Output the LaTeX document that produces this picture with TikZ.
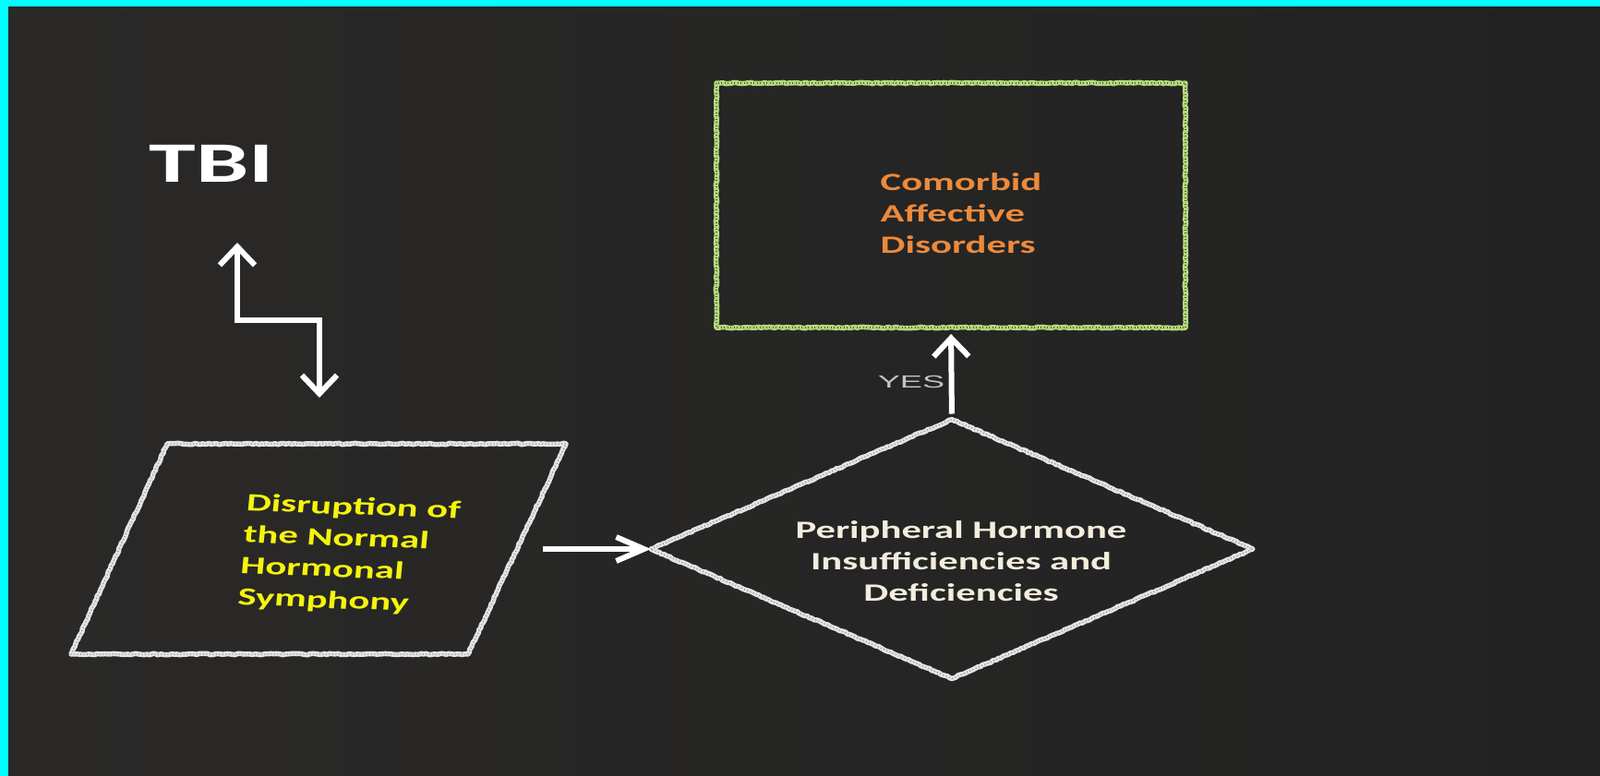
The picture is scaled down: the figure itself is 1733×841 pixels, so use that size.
\documentclass[tikz,border=0pt]{standalone}
\usepackage{fontspec}
\usepackage{graphicx}
\setmainfont{Carlito}
\newfontfamily\yesfont{Liberation Sans}
\usetikzlibrary{arrows.meta,decorations.pathmorphing,shapes.geometric,calc}
\definecolor{boardL}{HTML}{2A2928}
\definecolor{boardR}{HTML}{222222}
\definecolor{frame}{HTML}{00FFFF}
\definecolor{chalkwhite}{HTML}{E4E4E4}
\definecolor{chalkgreen}{HTML}{B4D87C}
\definecolor{txtyellow}{HTML}{F4F40C}
\definecolor{txtorange}{HTML}{EC8A3C}
\definecolor{txtcream}{HTML}{F2EDDC}
\definecolor{yesgray}{HTML}{C4C4C4}
\newcommand{\widetext}[2][1.58]{\scalebox{#1}[1]{#2}}
\begin{document}
\begin{tikzpicture}[x=1pt,y=-1pt,
  chalkline/.style={line width=5.5pt, line join=round, decorate,
    decoration={random steps, segment length=3pt, amplitude=0.7pt}},
  chalkspeck/.style={line width=1.3pt, draw=black!45, dash pattern=on 1pt off 2.5pt},
  arrowline/.style={draw=white, line width=6pt},
  vtip/.tip={Straight Barb[length=20pt,width=38pt]},
  htip/.tip={Straight Barb[length=30pt,width=26pt]},
  shapebox/.style={inner sep=0pt, outer sep=0pt},
  boxtext/.style={inner sep=0pt, font=\fontsize{27}{34}\selectfont\bfseries}
]
\useasboundingbox (0,0) rectangle (1733,841);
% board
\shade[left color=boardL, right color=boardR] (0,0) rectangle (1733,841);
\fill[frame] (0,0) rectangle (1733,7);
\fill[frame] (0,0) rectangle (9,841);

% TBI
\node[inner sep=0pt, text=white, font=\fontsize{62}{62}\selectfont\bfseries] (tbi) at (229,177) {\widetext[1.65]{TBI}};

% zigzag double arrow
\coordinate (zA) at (257,263);
\coordinate (zB) at (346,431);
\draw[arrowline, vtip-vtip] (zA) -- ++(0,84) -| (zB);

% parallelogram
\coordinate (pTL) at (181,481);
\coordinate (pTR) at (613,481);
\coordinate (pBR) at (507,709);
\coordinate (pBL) at (77,709);
\draw[chalkline, draw=chalkwhite] (pTL) -- (pTR) -- (pBR) -- (pBL) -- cycle;
\draw[chalkspeck] (pTL) -- (pTR) -- (pBR) -- (pBL) -- cycle;
\node[boxtext, text=txtyellow] (dis) at (378,602)
  {\widetext{\rotatebox{-3.4}{\begin{tabular}{@{}l@{}}Disruption of\\the Normal\\Hormonal\\Symphony\end{tabular}}}};

% diamond
\node[shapebox, diamond, minimum width=652pt, minimum height=281pt] (dia) at (1031,595) {};
\draw[chalkline, draw=chalkwhite] (dia.west) -- (dia.north) -- (dia.east) -- (dia.south) -- cycle;
\draw[chalkspeck] (dia.west) -- (dia.north) -- (dia.east) -- (dia.south) -- cycle;
\node[boxtext, text=txtcream] (diatext) at (1041,611)
  {\widetext{\begin{tabular}{@{}c@{}}Peripheral Hormone\\Insufficiencies and\\Deficiencies\end{tabular}}};

% rectangle
\node[shapebox, rectangle, minimum width=508pt, minimum height=265pt] (rect) at (1030,222.5) {};
\draw[chalkline, draw=chalkgreen] (rect.north west) rectangle (rect.south east);
\draw[chalkspeck, draw=chalkgreen!45!black] (rect.north west) rectangle (rect.south east);
\node[boxtext, text=txtorange] (recttext) at (1041,234)
  {\widetext{\begin{tabular}{@{}l@{}}Comorbid\\Affective\\Disorders\end{tabular}}};

% connectors
\coordinate (pOut) at (588,595);
\draw[arrowline, -htip] (pOut) -- (dia.west);
\draw[arrowline, -vtip, shorten <=6pt, shorten >=7pt] (dia.north) -- (rect.south);
\node[inner sep=0pt, text=yesgray, font=\yesfont\fontsize{19}{19}\selectfont] (yes) at (987,414) {\widetext[1.9]{YES}};
\end{tikzpicture}
\end{document}
